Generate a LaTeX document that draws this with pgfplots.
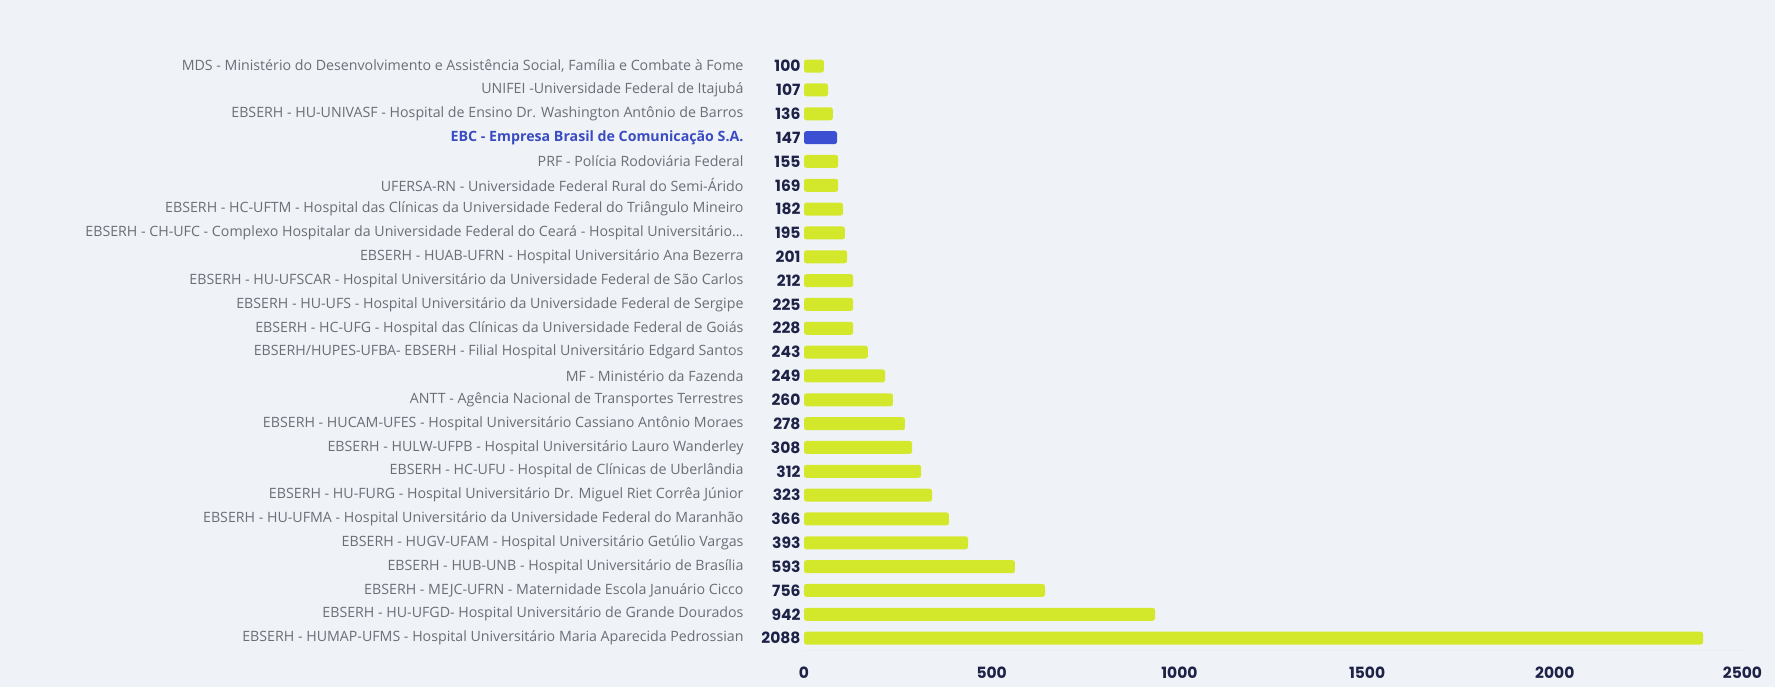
\documentclass[border=0pt]{standalone}
\usepackage{fontspec}
\setmainfont{Open Sans}
\newfontfamily\numfont{Poppins}
\usepackage{pgfplots}
\pgfplotsset{compat=1.18}
\definecolor{bg}{HTML}{EFF3F8}
\definecolor{barY}{HTML}{D4E82B}
\definecolor{barB}{HTML}{3A4FD1}
\definecolor{lab}{HTML}{6A6E76}
\definecolor{num}{HTML}{1E2247}
\definecolor{ebc}{HTML}{3B4CC0}
\newcommand{\threedots}{.\kern0pt.\kern0pt.}
\begin{document}
\begin{tikzpicture}
\fill[bg] (0,0) rectangle (1775pt,687pt);
\begin{axis}[
  at={(804pt,37pt)}, anchor=south west,
  scale only axis, width=938.5pt, height=595.8pt,
  xmin=0, xmax=2500, ymin=-0.5, ymax=24.5, y dir=reverse,
  axis lines*=left,
  y axis line style={draw=none},
  x axis line style={draw=black!7, line width=0.8pt},
  major tick length=0pt,
  xtick={0,500,1000,1500,2000,2500},
  xticklabel style={anchor=center, yshift=-23pt, font=\numfont\bfseries\fontsize{15.5}{17}\selectfont, text=num},
  /pgf/number format/assume math mode=true,
  /pgf/number format/set thousands separator={},
  ytick={0,1,2,3,4,5,6,7,8,9,10,11,12,13,14,15,16,17,18,19,20,21,22,23,24},
  yticklabel style={anchor=east, xshift=-57pt, font=\fontsize{14.2}{16}\selectfont, text=lab},
  yticklabels={
    {MDS - Ministério do Desenvolvimento e Assistência Social, Família e Combate à Fome},
    {UNIFEI -Universidade Federal de Itajubá},
    {EBSERH - HU-UNIVASF - Hospital de Ensino Dr. Washington Antônio de Barros},
    {\textcolor{ebc}{\bfseries EBC - Empresa Brasil de Comunicação S.A.}},
    {PRF - Polícia Rodoviária Federal},
    {UFERSA-RN - Universidade Federal Rural do Semi-Árido},
    {EBSERH - HC-UFTM - Hospital das Clínicas da Universidade Federal do Triângulo Mineiro},
    {EBSERH - CH-UFC - Complexo Hospitalar da Universidade Federal do Ceará - Hospital Universitário\threedots},
    {EBSERH - HUAB-UFRN - Hospital Universitário Ana Bezerra},
    {EBSERH - HU-UFSCAR - Hospital Universitário da Universidade Federal de São Carlos},
    {EBSERH - HU-UFS - Hospital Universitário da Universidade Federal de Sergipe},
    {EBSERH - HC-UFG - Hospital das Clínicas da Universidade Federal de Goiás},
    {EBSERH/HUPES-UFBA- EBSERH - Filial Hospital Universitário Edgard Santos},
    {MF - Ministério da Fazenda},
    {ANTT - Agência Nacional de Transportes Terrestres},
    {EBSERH - HUCAM-UFES - Hospital Universitário Cassiano Antônio Moraes},
    {EBSERH - HULW-UFPB - Hospital Universitário Lauro Wanderley},
    {EBSERH - HC-UFU - Hospital de Clínicas de Uberlândia},
    {EBSERH - HU-FURG - Hospital Universitário Dr. Miguel Riet Corrêa Júnior},
    {EBSERH - HU-UFMA - Hospital Universitário da Universidade Federal do Maranhão},
    {EBSERH - HUGV-UFAM - Hospital Universitário Getúlio Vargas},
    {EBSERH - HUB-UNB - Hospital Universitário de Brasília},
    {EBSERH - MEJC-UFRN - Maternidade Escola Januário Cicco},
    {EBSERH - HU-UFGD- Hospital Universitário de Grande Dourados},
    {EBSERH - HUMAP-UFMS - Hospital Universitário Maria Aparecida Pedrossian}
  },
  clip=false,
]
% yellow bars
\addplot[xbar, bar width=13pt, bar shift=0pt, fill=barY, draw=none, rounded corners=2.5pt] coordinates {
 (53,0) (64,1) (77,2) (91,4) (91,5) (104,6) (109,7) (115,8) (131,9) (131,10) (131,11)
 (170,12) (216,13) (237,14) (269,15) (288,16) (312,17) (341,18) (386,19) (437,20)
 (562,21) (642,22) (935,23) (2395,24)
};
% EBC bar
\addplot[xbar, bar width=13pt, bar shift=0pt, fill=barB, draw=none, rounded corners=2.5pt] coordinates {(88,3)};
% value labels
\addplot[only marks, mark=none, nodes near coords, point meta=explicit symbolic,
  every node near coord/.append style={anchor=east, xshift=0pt, font=\numfont\bfseries\fontsize{15.5}{17}\selectfont, text=num}]
  table[x=z, y=i, meta=n] {
i z n
0 0 100
1 0 107
2 0 136
3 0 147
4 0 155
5 0 169
6 0 182
7 0 195
8 0 201
9 0 212
10 0 225
11 0 228
12 0 243
13 0 249
14 0 260
15 0 278
16 0 308
17 0 312
18 0 323
19 0 366
20 0 393
21 0 593
22 0 756
23 0 942
24 0 2088
};
\end{axis}
\pgfresetboundingbox
\useasboundingbox (0,0) rectangle (1775pt,687pt);
\end{tikzpicture}
\end{document}
